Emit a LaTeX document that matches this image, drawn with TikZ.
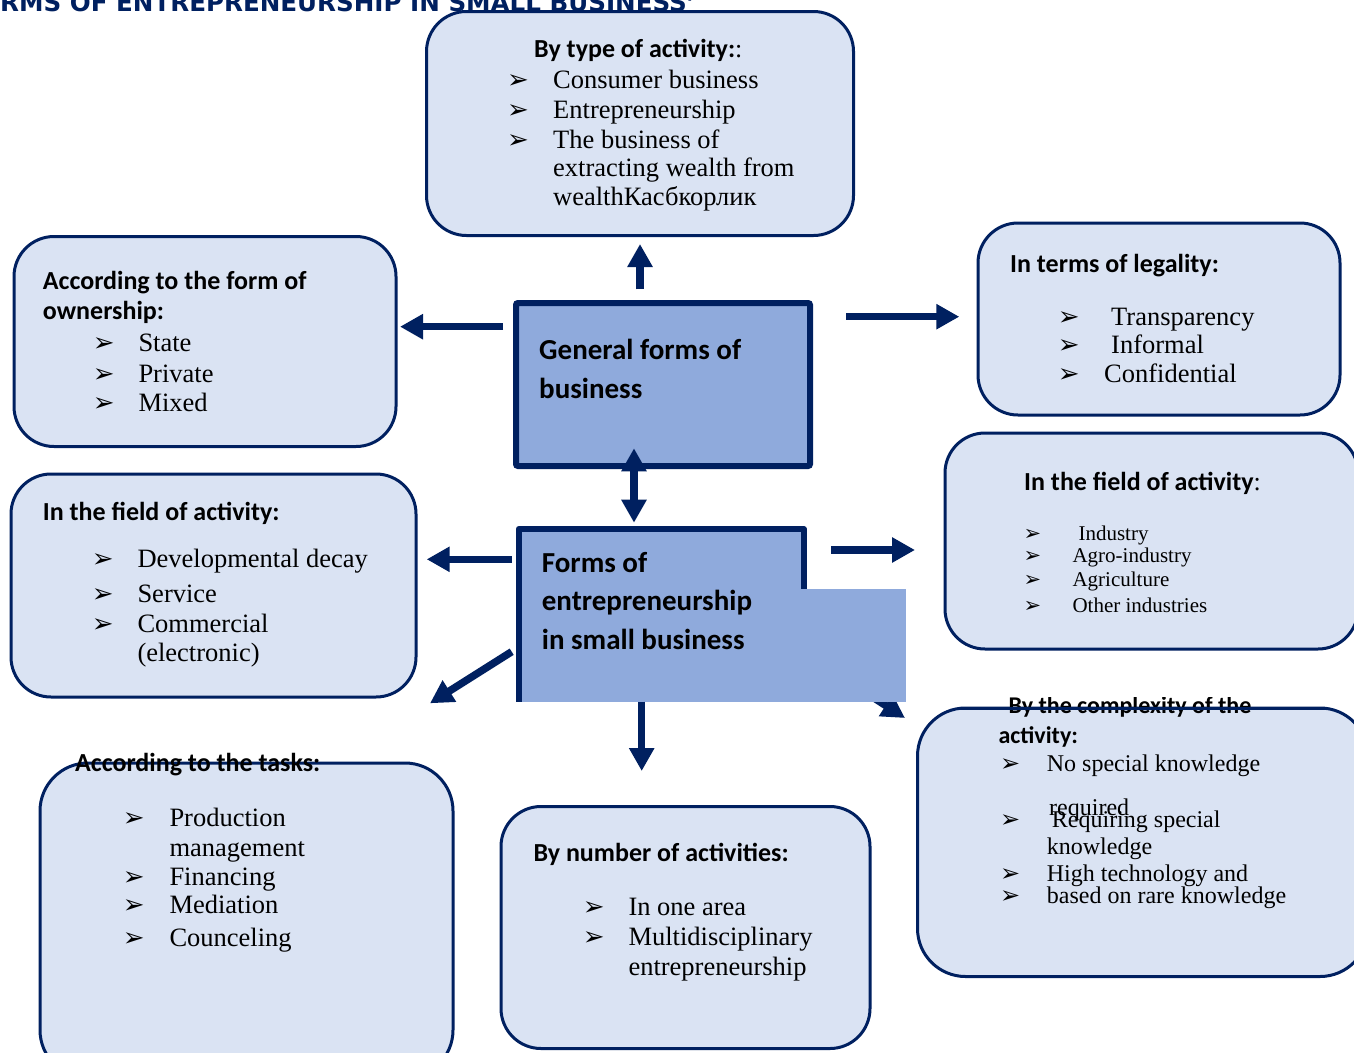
\documentclass[tikz,border=0pt]{standalone}
\usepackage{fontspec}
\setmainfont{Liberation Serif}
\newfontfamily\carl{Carlito}
\newfontfamily\dvs{DejaVu Sans}
\usetikzlibrary{arrows.meta}
\definecolor{navy}{HTML}{002060}
\definecolor{boxfill}{HTML}{DAE3F3}
\definecolor{cfill}{HTML}{8FAADC}
\tikzset{
  rbox/.style={draw=navy, line width=3pt, fill=boxfill, rounded corners=40pt, inner sep=0pt, outer sep=0pt},
  hd/.style={anchor=base west, inner sep=0pt, font=\carl\bfseries\fontsize{26}{26}\selectfont},
  hds/.style={anchor=base west, inner sep=0pt, font=\carl\bfseries\fontsize{24}{24}\selectfont},
  hdc/.style={anchor=base west, inner sep=0pt, font=\carl\bfseries\fontsize{29}{29}\selectfont},
  itm/.style={anchor=base west, inner sep=0pt, font=\fontsize{26.5}{26.5}\selectfont},
  itms/.style={anchor=base west, inner sep=0pt, font=\fontsize{24}{24}\selectfont},
  itmx/.style={anchor=base west, inner sep=0pt, font=\fontsize{21}{21}\selectfont},
  bul/.style={anchor=base west, inner sep=0pt, font=\dvs\fontsize{26}{26}\selectfont},
  bulm/.style={anchor=base west, inner sep=0pt, font=\dvs\fontsize{24}{24}\selectfont},
  buls/.style={anchor=base west, inner sep=0pt, font=\dvs\fontsize{21}{21}\selectfont},
  arr/.style={draw=navy, line width=7.5pt, -{Triangle[width=24pt,length=23pt]}},
  darr/.style={draw=navy, line width=7.5pt, {Triangle[width=24pt,length=23pt]}-{Triangle[width=24pt,length=23pt]}},
}
\begin{document}
\begin{tikzpicture}[x=1pt,y=-1pt]
\useasboundingbox (0,0) rectangle (1354,1052);
\clip (0,0) rectangle (1354,1052);
\fill[white] (0,0) rectangle (1354,1052);

% title (cut off at top)
\node[anchor=base west, inner sep=0pt, text=navy, font=\dvs\bfseries\fontsize{24.6}{24.6}\selectfont] (title) at (0,12) {RMS OF ENTREPRENEURSHIP IN SMALL BUSINESS’};

% boxes
\node[rbox, minimum width=427, minimum height=224] (btype) at (640,123.5) {};
\node[rbox, minimum width=382, minimum height=210] (bown) at (205,341.5) {};
\node[rbox, minimum width=362, minimum height=192] (bleg) at (1159,319) {};
\node[rbox, minimum width=413, minimum height=216] (bfr) at (1151.5,541) {};
\node[rbox, minimum width=405, minimum height=223] (bfl) at (213.5,585.5) {};
\node[rbox, rounded corners=48pt, minimum width=413, minimum height=315] (btask) at (246.5,920.5) {};
\node[rbox, minimum width=369, minimum height=242] (bnum) at (685.5,927.5) {};
\node[rbox, rounded corners=48pt, minimum width=450.5, minimum height=268.5] (bcx) at (1142.75,842.25) {};

% central box
\node[draw=navy, line width=6pt, fill=cfill, rounded corners=2pt, minimum width=294, minimum height=163, inner sep=0pt, outer sep=0pt] (gen) at (663,384.5) {};

% lower central box
\coordinate (dtail) at (800,650);
\coordinate (dtip) at (905,718);
\draw[arr] (dtail) -- (dtip);
\node[fill=cfill, minimum width=285, minimum height=172.7, inner sep=0pt, outer sep=0pt] (fe) at (661.2,615.35) {};
\draw[navy, line width=6pt, line join=round] (fe.south west) -- (fe.north west) -- (fe.north east) -- ([yshift=-60pt]fe.north east);
\node[fill=cfill, minimum width=384.3, minimum height=112.7, inner sep=0pt, outer sep=0pt] (fe2) at (713.85,645.35) {};

% arrows
\coordinate (a1s) at (640,289.3); \coordinate (a1e) at (640,244);
\draw[arr] (a1s) -- (a1e);
\coordinate (a2s) at (503,326.7); \coordinate (a2e) at (400,326.7);
\draw[arr] (a2s) -- (a2e);
\coordinate (a3s) at (846,316.7); \coordinate (a3e) at (959.3,316.7);
\draw[arr] (a3s) -- (a3e);
\coordinate (a4s) at (634,448.3); \coordinate (a4e) at (634,522.7);
\draw[darr] (a4s) -- (a4e);
\coordinate (a5s) at (511.7,559.3); \coordinate (a5e) at (426.7,559.3);
\draw[arr] (a5s) -- (a5e);
\coordinate (a6s) at (831,550); \coordinate (a6e) at (915,550);
\draw[arr] (a6s) -- (a6e);
\coordinate (a7s) at (511.7,651.7); \coordinate (a7e) at (430,703.3);
\draw[arr] (a7s) -- (a7e);
\coordinate (a8s) at (641.7,701.7); \coordinate (a8e) at (641.7,771);
\draw[arr] (a8s) -- (a8e);

% central texts
\node[hdc] (g1) at (539,359.3) {General forms of};
\node[hdc] (g2) at (539,398.3) {business};
\node[hdc] (f1) at (541.7,572.7) {Forms of};
\node[hdc] (f2) at (541.7,610.7) {entrepreneurship};
\node[hdc] (f3) at (541.7,649) {in small business};

% top box
\node[hd] (t0) at (534,57.3) {By type of activity:{\normalfont :}};
\node[bul] (tb1) at (507,88) {➢};
\node[bul] (tb2) at (507,118.3) {➢};
\node[bul] (tb3) at (507,148) {➢};
\node[itm] (t1) at (553,88) {Consumer business};
\node[itm] (t2) at (553,118.3) {Entrepreneurship};
\node[itm] (t3) at (553,148) {The business of};
\node[itm] (t4) at (553,176.7) {extracting wealth from};
\node[itm] (t5) at (553,205) {wealthКасбкорлик};

% ownership box
\node[hd] (o0) at (42.7,289.3) {According to the form of};
\node[hd] (o0b) at (42.7,319.3) {ownership:};
\node[bul] (ob1) at (92.7,351.7) {➢};
\node[bul] (ob2) at (92.7,382.7) {➢};
\node[bul] (ob3) at (92.7,411.7) {➢};
\node[itm] (o1) at (138.3,351.7) {State};
\node[itm] (o2) at (138.3,382.7) {Private};
\node[itm] (o3) at (138.3,411.7) {Mixed};

% legality box
\node[hd] (l0) at (1010,272.3) {In terms of legality:};
\node[bul] (lb1) at (1057.7,325) {➢};
\node[bul] (lb2) at (1057.7,353.3) {➢};
\node[bul] (lb3) at (1057.7,382.3) {➢};
\node[itm] (l1) at (1111,325) {Transparency};
\node[itm] (l2) at (1111,353.3) {Informal};
\node[itm] (l3) at (1104,382.3) {Confidential};

% right field box
\node[hd] (r0) at (1024,490) {In the field of activity{\normalfont :}};
\node[buls] (rb1) at (1023.3,540) {➢};
\node[buls] (rb2) at (1023.3,562.7) {➢};
\node[buls] (rb3) at (1023.3,586.7) {➢};
\node[buls] (rb4) at (1023.3,612.7) {➢};
\node[itmx] (r1) at (1078.3,540) {Industry};
\node[itmx] (r2) at (1072.3,562.7) {Agro-industry};
\node[itmx] (r3) at (1072.3,586.7) {Agriculture};
\node[itmx] (r4) at (1072.3,612.7) {Other industries};

% left field box
\node[hd] (m0) at (42.7,520) {In the field of activity:};
\node[bul] (mb1) at (91.7,567.3) {➢};
\node[bul] (mb2) at (91.7,602.7) {➢};
\node[bul] (mb3) at (91.7,632.7) {➢};
\node[itm] (m1) at (137.3,567.3) {Developmental decay};
\node[itm] (m2) at (137.3,602.7) {Service};
\node[itm] (m3) at (137.3,632.7) {Commercial};
\node[itm] (m4) at (137.3,661.7) {(electronic)};

% tasks box
\node[hd] (k0) at (75,771.7) {According to the tasks:};
\node[bul] (kb1) at (122.7,826) {➢};
\node[bul] (kb2) at (122.7,885.7) {➢};
\node[bul] (kb3) at (122.7,913.3) {➢};
\node[bul] (kb4) at (122.7,946.7) {➢};
\node[itm] (k1) at (169.3,826) {Production};
\node[itm] (k1b) at (169.3,856) {management};
\node[itm] (k2) at (169.3,885.7) {Financing};
\node[itm] (k3) at (169.3,913.3) {Mediation};
\node[itm] (k4) at (169.3,946.7) {Counceling};

% number box
\node[hd] (n0) at (533.3,861.7) {By number of activities:};
\node[bul] (nb1) at (582.7,915) {➢};
\node[bul] (nb2) at (582.7,945) {➢};
\node[itm] (n1) at (628.3,915) {In one area};
\node[itm] (n2) at (628.3,945) {Multidisciplinary};
\node[itm] (n2b) at (628.3,975) {entrepreneurship};

% complexity box
\begin{scope}
\clip (990,697.5) rectangle (1300,730);
\node[hds] (c0) at (1008.3,713) {By the complexity of the};
\end{scope}
\draw[navy, line width=3pt] ([xshift=40pt]bcx.north west) -- ([xshift=-40pt]bcx.north east);
\node[hds] (c0b) at (998.3,743.3) {activity:};
\node[bulm] (cb1) at (1000,771.7) {➢};
\node[bulm] (cb2) at (1000,827.3) {➢};
\node[bulm] (cb3) at (1000,881.7) {➢};
\node[bulm] (cb4) at (1000,903.3) {➢};
\node[itms] (c1) at (1046.7,771.7) {No special knowledge};
\node[itms] (c1b) at (1049,815) {required};
\node[itms] (c2) at (1051.7,827.3) {Requiring special};
\node[itms] (c2b) at (1046.7,854.3) {knowledge};
\node[itms] (c3) at (1046.7,881.7) {High technology and};
\node[itms] (c4) at (1046.7,903.3) {based on rare knowledge};
\end{tikzpicture}
\end{document}
